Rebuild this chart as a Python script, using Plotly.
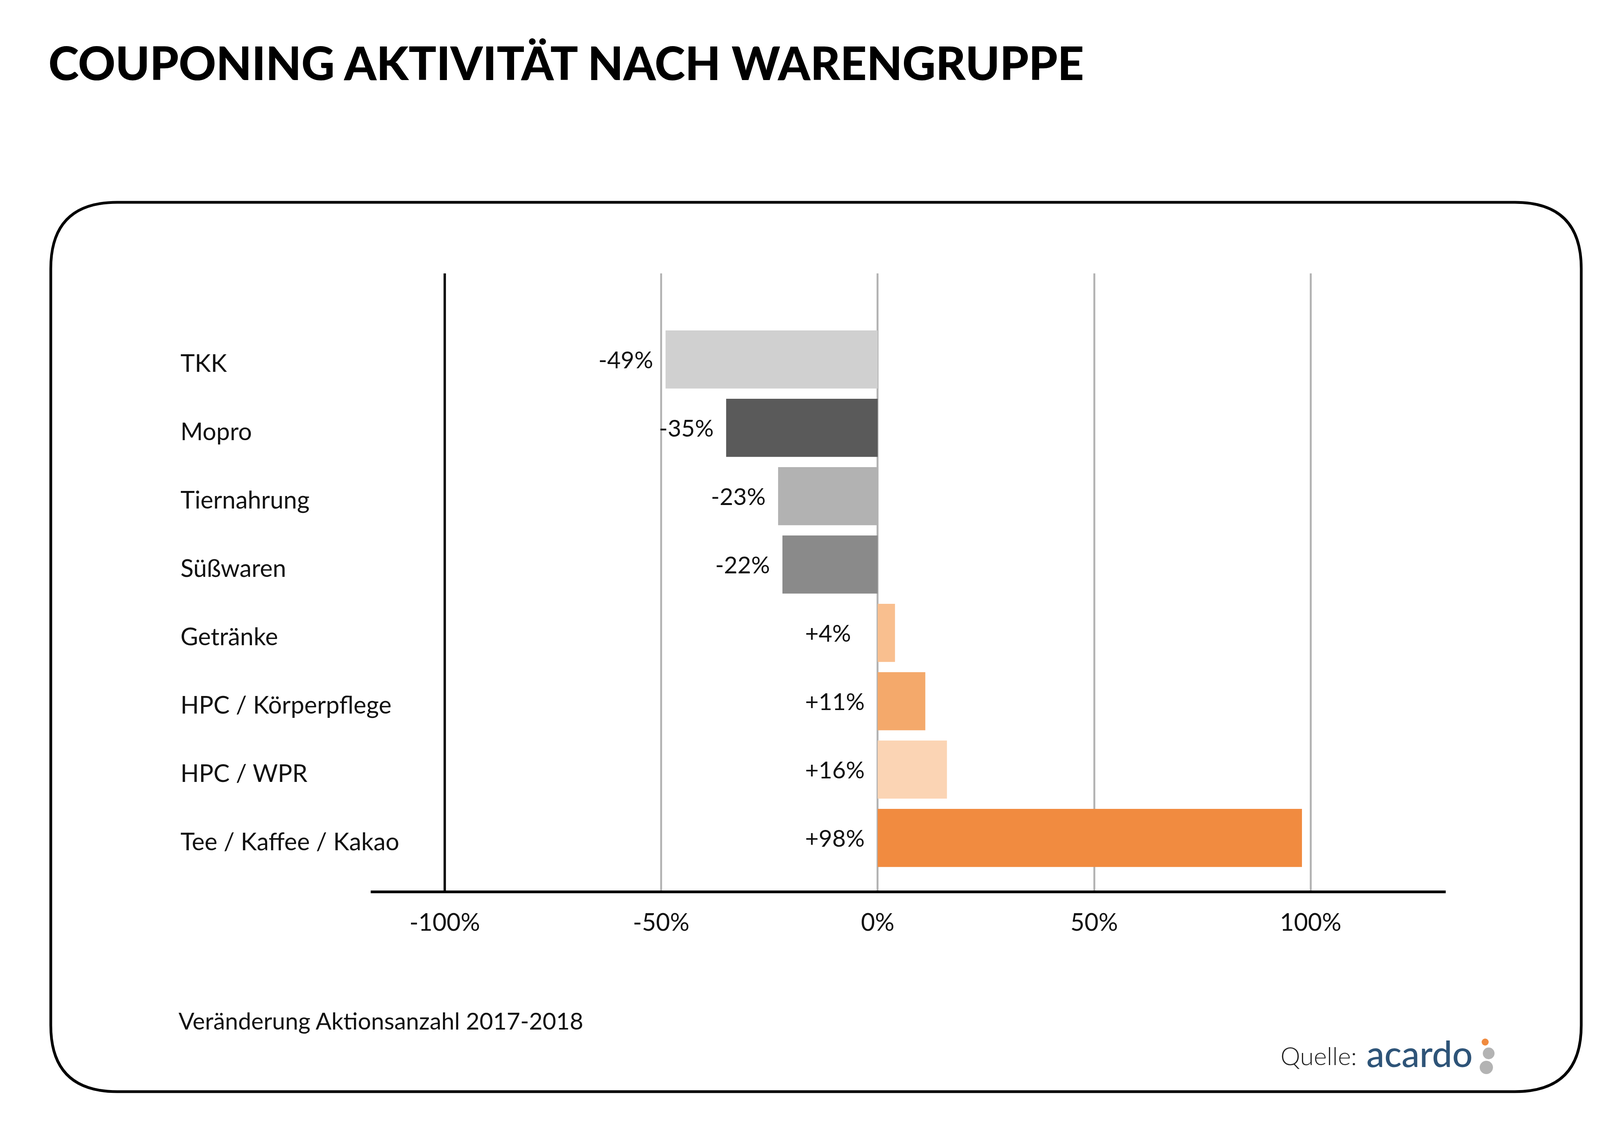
import plotly.graph_objects as go

# ---------------- data ----------------
categories = ["TKK", "Mopro", "Tiernahrung", "Süßwaren", "Getränke",
              "HPC / Körperpflege", "HPC / WPR", "Tee / Kaffee / Kakao"]
values = [-49, -35, -23, -22, 4, 11, 16, 98]
value_labels = ["-49%", "-35%", "-23%", "-22%", "+4%", "+11%", "+16%", "+98%"]
bar_colors = ["#d0d0d0", "#5a5a5a", "#b2b2b2", "#8a8a8a",
              "#f9bf8f", "#f4a96b", "#fbd4b4", "#f18b40"]
tick_vals = [-100, -50, 0, 50, 100]
tick_text = ["-100%", "-50%", "0%", "50%", "100%"]

title_text = "COUPONING AKTIVITÄT NACH WARENGRUPPE"
subtitle_text = "Veränderung Aktionsanzahl 2017-2018"

# ---------------- layout constants ----------------
W, H = 4147, 2906
ML, MR, MT, MB = 941, 454, 692, 634
PW = W - ML - MR
PH = H - MT - MB
FONT = "Lato"
TXT = "#111111"


def px_x(px):
    return (px - ML) / PW


def px_y(py):
    return (H - MB - py) / PH


fig = go.Figure()
fig.add_trace(go.Bar(
    x=values, y=categories, orientation="h",
    marker=dict(color=bar_colors, line=dict(width=0)),
    width=0.85, hoverinfo="skip", showlegend=False,
))

annotations = []
# data labels
for c, v, t in zip(categories, values, value_labels):
    if v < 0:
        pos = dict(x=v, xanchor="right", xshift=-30)
    else:
        pos = dict(x=0, xanchor="left", xshift=-188)
    annotations.append(dict(
        y=c, xref="x", yref="y", text=t, showarrow=False,
        yanchor="middle", font=dict(family=FONT, size=60, color=TXT), **pos,
    ))
# category labels (left aligned)
for c in categories:
    annotations.append(dict(
        x=px_x(452), y=c, xref="paper", yref="y", text=c, showarrow=False,
        xanchor="left", yanchor="middle", yshift=-8,
        font=dict(family=FONT, size=62, color=TXT),
    ))
# title
annotations.append(dict(
    x=px_x(114), y=px_y(152), xref="paper", yref="paper", text=title_text,
    showarrow=False, xanchor="left", yanchor="middle",
    font=dict(family=FONT, size=118, color="#000000", weight=900),
))
# subtitle
annotations.append(dict(
    x=px_x(447), y=px_y(2605), xref="paper", yref="paper", text=subtitle_text,
    showarrow=False, xanchor="left", yanchor="middle",
    font=dict(family=FONT, size=60, color=TXT),
))
# source
annotations.append(dict(
    x=px_x(3268), y=px_y(2694), xref="paper", yref="paper", text="Quelle:",
    showarrow=False, xanchor="left", yanchor="middle",
    font=dict(family=FONT, size=64, color="#222222", weight=300),
))
annotations.append(dict(
    x=px_x(3488), y=px_y(2688), xref="paper", yref="paper", text="acardo",
    showarrow=False, xanchor="left", yanchor="middle",
    font=dict(family=FONT, size=92, color="#2e5478", weight=500),
))

shapes = []
# rounded frame
R = 170
bx0, bx1 = px_x(122), px_x(4040)
by0, by1 = px_y(510), px_y(2787)
rx, ry = R / PW, R / PH
path = (f"M {bx0+rx},{by0} L {bx1-rx},{by0} Q {bx1},{by0} {bx1},{by0-ry} "
        f"L {bx1},{by1+ry} Q {bx1},{by1} {bx1-rx},{by1} "
        f"L {bx0+rx},{by1} Q {bx0},{by1} {bx0},{by1+ry} "
        f"L {bx0},{by0-ry} Q {bx0},{by0} {bx0+rx},{by0} Z")
shapes.append(dict(type="path", path=path, xref="paper", yref="paper",
                   line=dict(color="#000000", width=7), layer="below"))
# black vertical line at -100%
shapes.append(dict(type="line", xref="x", yref="paper", x0=-100, x1=-100,
                   y0=0, y1=1, line=dict(color="#000000", width=6), layer="above"))
# logo dots
for (cx, cy, r, col) in [(3794, 2660, 9, "#f08a3e"),
                         (3803, 2689, 15, "#b3b3b3"),
                         (3797, 2725, 17, "#b3b3b3")]:
    shapes.append(dict(type="circle", xref="paper", yref="paper",
                       xsizemode="pixel", ysizemode="pixel",
                       xanchor=px_x(cx), yanchor=px_y(cy),
                       x0=-r, x1=r, y0=-r, y1=r,
                       fillcolor=col, line=dict(width=0)))

fig.update_layout(
    width=W, height=H,
    margin=dict(l=ML, r=MR, t=MT, b=MB, autoexpand=False),
    paper_bgcolor="#ffffff", plot_bgcolor="#ffffff",
    annotations=annotations, shapes=shapes,
    bargap=0.15,
    xaxis=dict(range=[-117.1, 131.2], tickvals=tick_vals, ticktext=tick_text,
               showgrid=True, gridcolor="#b4b4b4", gridwidth=5,
               zeroline=False, showline=True, linecolor="#000000", linewidth=7,
               ticks="", ticklabelstandoff=22,
               tickfont=dict(family=FONT, size=62, color=TXT), fixedrange=True),
    yaxis=dict(categoryorder="array", categoryarray=categories,
               range=[7.77, -1.26], showticklabels=False, showgrid=False,
               zeroline=False, showline=False, ticks="", fixedrange=True),
)

fig.write_html("out.html")
